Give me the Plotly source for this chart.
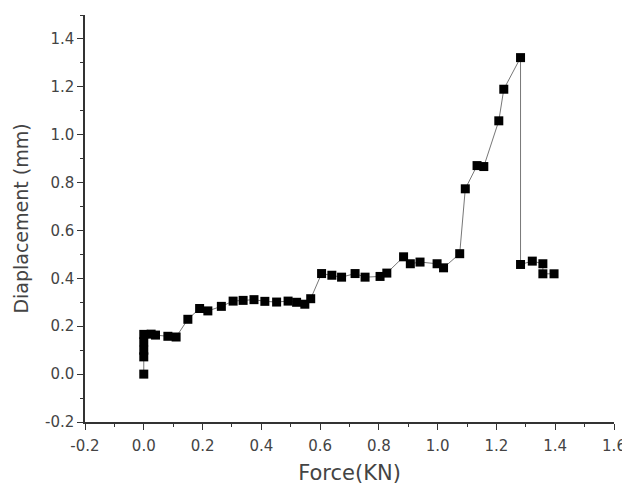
import plotly.graph_objects as go

force = [0.0, 0.0, 0.0, 0.0, 0.0, 0.025, 0.04, 0.082, 0.11, 0.15, 0.19, 0.218, 0.264,
         0.304, 0.338, 0.375, 0.412, 0.452, 0.491, 0.52, 0.548, 0.568,
         0.605, 0.64, 0.673, 0.719, 0.753, 0.804, 0.827, 0.884, 0.907, 0.94, 0.998, 1.02,
         1.075, 1.094, 1.134, 1.157, 1.208, 1.225, 1.282, 1.282, 1.322, 1.358, 1.358, 1.396]
displacement = [0.0, 0.072, 0.10, 0.135, 0.166, 0.167, 0.163, 0.158, 0.155, 0.229, 0.274, 0.264, 0.283,
                0.305, 0.308, 0.311, 0.304, 0.301, 0.305, 0.300, 0.292, 0.315,
                0.42, 0.413, 0.405, 0.42, 0.405, 0.408, 0.422, 0.49, 0.461, 0.468, 0.461, 0.444,
                0.503, 0.774, 0.871, 0.867, 1.058, 1.19, 1.322, 0.458, 0.472, 0.461, 0.419, 0.419]

x_ticks = [-0.2, 0.0, 0.2, 0.4, 0.6, 0.8, 1.0, 1.2, 1.4, 1.6]
y_ticks = [-0.2, 0.0, 0.2, 0.4, 0.6, 0.8, 1.0, 1.2, 1.4]

FONT = "DejaVu Sans, Arial, sans-serif"

fig = go.Figure()
fig.add_trace(go.Scatter(
    x=force, y=displacement, mode="lines+markers",
    line=dict(color="#777777", width=1),
    marker=dict(symbol="square", size=9, color="black"),
    showlegend=False,
))

axis_font = dict(family=FONT, size=15, color="#444444")
common = dict(
    showgrid=False, zeroline=False, showline=True, linecolor="#333333", linewidth=1.5,
    ticks="outside", ticklen=6, tickwidth=1.2, tickcolor="#333333",
    minor=dict(ticks="outside", ticklen=3, dtick=0.1, tickcolor="#333333", showgrid=False),
    tickfont=axis_font,
)
fig.update_layout(
    width=630, height=486,
    margin=dict(l=77, r=24, t=7, b=72),
    paper_bgcolor="white", plot_bgcolor="white",
    xaxis=dict(
        range=[-0.2, 1.6], tickvals=x_ticks, ticktext=[f"{v:.1f}" for v in x_ticks],
        ticklabelstandoff=3,
        title=dict(text="Force(KN)", font=dict(family=FONT, size=21, color="#444444"), standoff=12),
        **common,
    ),
    yaxis=dict(
        range=[-0.2, 1.5], tickvals=y_ticks, ticktext=[f"{v:.1f}" for v in y_ticks],
        title=dict(text="Diaplacement (mm)", font=dict(family=FONT, size=19, color="#444444"), standoff=11),
        **common,
    ),
)

fig.write_html("out.html")
